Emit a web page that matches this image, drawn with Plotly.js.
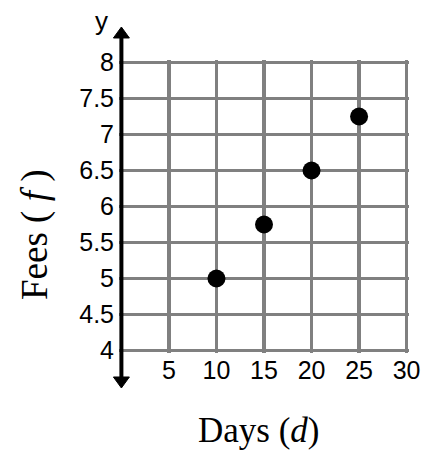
<!DOCTYPE html>
<html>
<head>
<meta charset="utf-8">
<script src="https://cdn.plot.ly/plotly-3.0.1.min.js"></script>
<style>html,body{margin:0;padding:0;background:#fff;}</style>
</head>
<body>
<div id="chart" style="width:423px;height:452px;"></div>
<script>
const days = [10, 15, 20, 25];
const fees = [5, 5.75, 6.5, 7.25];
const xTicks = [5, 10, 15, 20, 25, 30];
const yTicks = [4, 4.5, 5, 5.5, 6, 6.5, 7, 7.5, 8];
const yTickText = ['4', '4.5', '5', '5.5', '6', '6.5', '7', '7.5', '8'];

const tickFont = {family: 'Liberation Sans, Arial, sans-serif', size: 25, color: '#000'};
const titleFont = {family: 'Liberation Serif, Times New Roman, serif', size: 35, color: '#000'};

const trace = {
  x: days, y: fees, type: 'scatter', mode: 'markers',
  marker: {color: '#000', size: 18}, hoverinfo: 'none', cliponaxis: false
};

const ax0 = (121.4 - 119) / 290;
const hw = 8 / 290;

const layout = {
  width: 423, height: 452,
  margin: {l: 119, r: 14, t: 60, b: 99, pad: 0},
  paper_bgcolor: '#fff', plot_bgcolor: '#fff',
  showlegend: false,
  xaxis: {
    range: [-0.25, 30.25], tickvals: xTicks, ticktext: xTicks.map(String),
    showgrid: true, gridcolor: '#808080', gridwidth: 3.5,
    zeroline: false, showline: false, ticks: '', tickfont: tickFont,
    fixedrange: true
  },
  yaxis: {
    range: [3.965, 8.035], tickvals: yTicks, ticktext: yTickText,
    showgrid: true, gridcolor: '#808080', gridwidth: 3.5,
    zeroline: false, showline: false, ticks: '', tickfont: tickFont,
    ticklabelstandoff: 4, fixedrange: true
  },
  shapes: [
    {type: 'line', xref: 'paper', yref: 'paper', x0: ax0, x1: ax0, y0: -0.085, y1: 1.078,
     line: {color: '#000', width: 4}},
    {type: 'path', xref: 'paper', yref: 'paper',
     path: 'M ' + (ax0 - hw) + ',1.0751 L ' + (ax0 + hw) + ',1.0751 L ' + ax0 + ',1.1126 Z',
     fillcolor: '#000', line: {color: '#000', width: 1}},
    {type: 'path', xref: 'paper', yref: 'paper',
     path: 'M ' + (ax0 - hw) + ',-0.0819 L ' + (ax0 + hw) + ',-0.0819 L ' + ax0 + ',-0.1195 Z',
     fillcolor: '#000', line: {color: '#000', width: 1}}
  ],
  annotations: [
    {text: 'y', xref: 'paper', yref: 'paper', x: (101 - 119) / 290, y: (353 - 21) / 293, showarrow: false,
     xanchor: 'center', yanchor: 'middle', font: {family: tickFont.family, size: 26, color: '#000'}},
    {text: 'Fees ( <i>f</i> )', xref: 'paper', yref: 'paper', x: (35 - 119) / 290, y: (353 - 235) / 293,
     showarrow: false, textangle: -90, xanchor: 'center', yanchor: 'middle',
     font: {family: titleFont.family, size: 37, color: '#000'}},
    {text: 'Days (<i>d</i>)', xref: 'paper', yref: 'paper', x: (259 - 119) / 290, y: (353 - 430) / 293,
     showarrow: false, xanchor: 'center', yanchor: 'middle', font: titleFont}
  ]
};

Plotly.newPlot('chart', [trace], layout, {displayModeBar: false, staticPlot: true});
</script>
</body>
</html>
